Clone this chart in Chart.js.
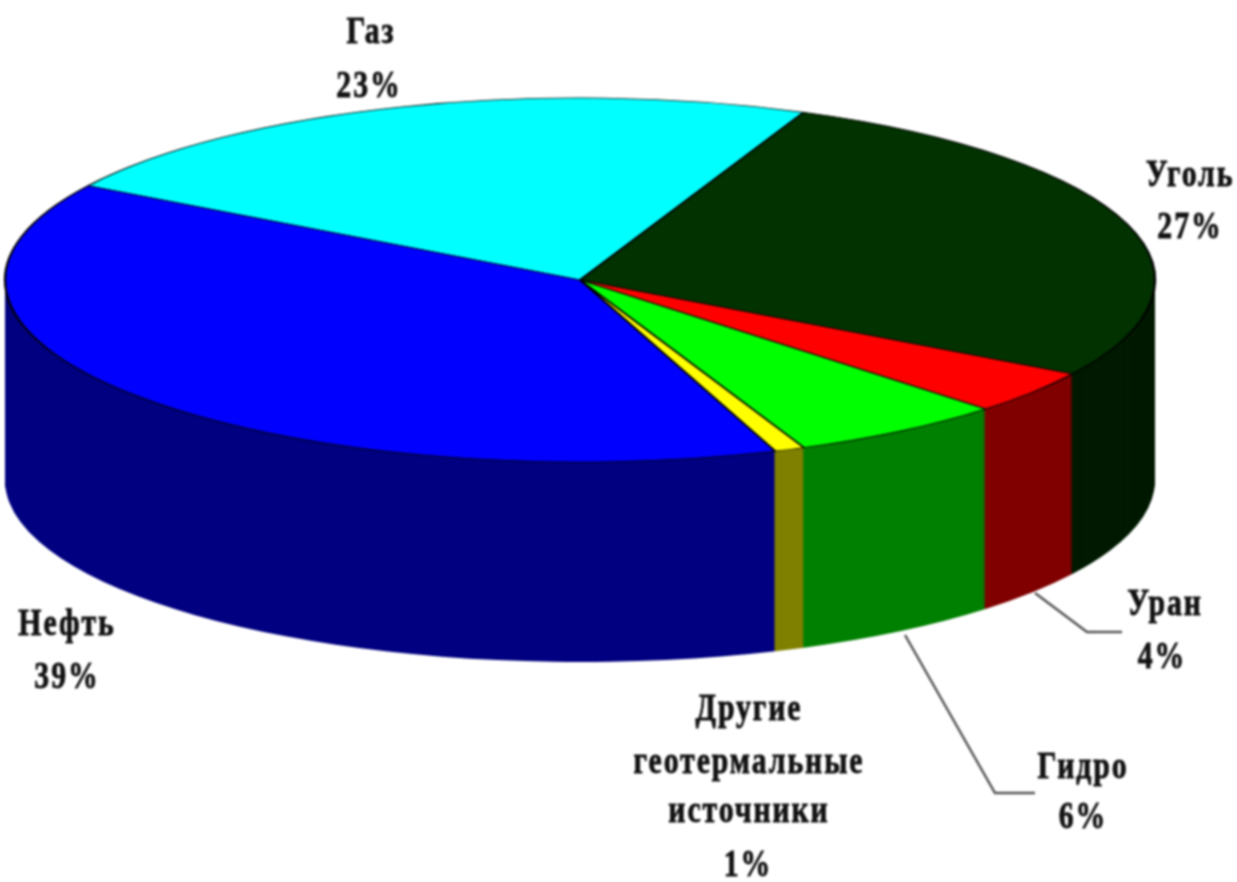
<!DOCTYPE html>
<html>
<head>
<meta charset="utf-8">
<style>
  html, body { margin: 0; padding: 0; background: #fff; overflow: hidden; }
  canvas { display: block; filter: blur(1.1px); }
</style>
<script src="https://cdn.jsdelivr.net/npm/chart.js@4"></script>
</head>
<body>
<canvas id="pie" width="1237" height="882"></canvas>
<script>
const categories = ["Газ", "Уголь", "Уран", "Гидро", "Другие геотермальные источники", "Нефть"];
// доли оценены по углам секторов на картинке, подписи округлены
const shareValues = [22.7, 27.3, 3.9, 6.1, 0.85, 39.2];
const topColors = ["#00ffff", "#013200", "#ff0000", "#00ff00", "#ffff00", "#0000ff"];
const wallColors = ["#008080", "#001a00", "#800000", "#008000", "#808000", "#000080"];

// подписи: строки и центр каждой строки
const labelLines = [
  ["Газ", 371, 33], ["23%", 369, 87],
  ["Уголь", 1190, 176], ["27%", 1190, 228],
  ["Уран", 1165, 605], ["4%", 1162, 658],
  ["Гидро", 1083, 768], ["6%", 1083, 818],
  ["Другие", 749, 710], ["геотермальные", 749, 763], ["источники", 749, 812], ["1%", 748, 866],
  ["Нефть", 67, 625], ["39%", 67, 678]
];
const leaderLines = [
  [[1035, 593], [1087, 632], [1122, 632]],
  [[905, 635], [995, 793], [1035, 793]]
];

// геометрия псевдо-3D: центр и полуоси эллипса, высота стенки
const disc = {x: 580, y: 280, rx: 575, ry: 182, depth: 200};

const squash = (ctx, arc, shift) => {
  ctx.translate(disc.x, disc.y + shift);
  ctx.scale(disc.rx / arc.outerRadius, disc.ry / arc.outerRadius);
  ctx.translate(-arc.x, -arc.y);
};

const discPlugin = {
  id: "disc",
  beforeDatasetsDraw(chart) {
    const {ctx} = chart;
    const arcs = chart.getDatasetMeta(0).data;
    // стенка: слои снизу вверх, верхний слой перекрывает нижние
    for (let d = disc.depth; d > 0; d--) {
      arcs.forEach((arc, i) => {
        ctx.save();
        squash(ctx, arc, d);
        ctx.fillStyle = wallColors[i];
        ctx.beginPath();
        ctx.moveTo(arc.x, arc.y);
        ctx.arc(arc.x, arc.y, arc.outerRadius, arc.startAngle, arc.endAngle);
        ctx.closePath();
        ctx.fill();
        ctx.restore();
      });
    }
    ctx.save();
    squash(ctx, arcs[0], 0);
  },
  afterDatasetsDraw(chart) {
    chart.ctx.restore();
  },
  afterDraw(chart) {
    const {ctx} = chart;
    ctx.save();
    ctx.strokeStyle = "#555";
    ctx.lineWidth = 2.5;
    leaderLines.forEach(points => {
      ctx.beginPath();
      points.forEach(([x, y], i) => i ? ctx.lineTo(x, y) : ctx.moveTo(x, y));
      ctx.stroke();
    });
    ctx.fillStyle = "#111";
    ctx.strokeStyle = "#111";
    ctx.lineWidth = 0.7;
    ctx.font = 'bold 31px "Liberation Serif"';
    ctx.textAlign = "center";
    ctx.textBaseline = "middle";
    ctx.letterSpacing = "2px";
    labelLines.forEach(([text, x, y]) => {
      ctx.save();
      ctx.translate(x, y);
      ctx.scale(0.96, 1.2);
      ctx.fillText(text, 0, 0);
      ctx.strokeText(text, 0, 0);
      ctx.restore();
    });
    ctx.restore();
  }
};

new Chart(document.getElementById("pie"), {
  type: "pie",
  data: {
    labels: categories,
    datasets: [{
      data: shareValues,
      backgroundColor: topColors,
      borderColor: "#000",
      borderWidth: 1.8,
      clip: false
    }]
  },
  options: {
    responsive: false,
    animation: false,
    rotation: -58.8,
    layout: {padding: 0},
    plugins: {legend: {display: false}, tooltip: {enabled: false}}
  },
  plugins: [discPlugin]
});
</script>
</body>
</html>
